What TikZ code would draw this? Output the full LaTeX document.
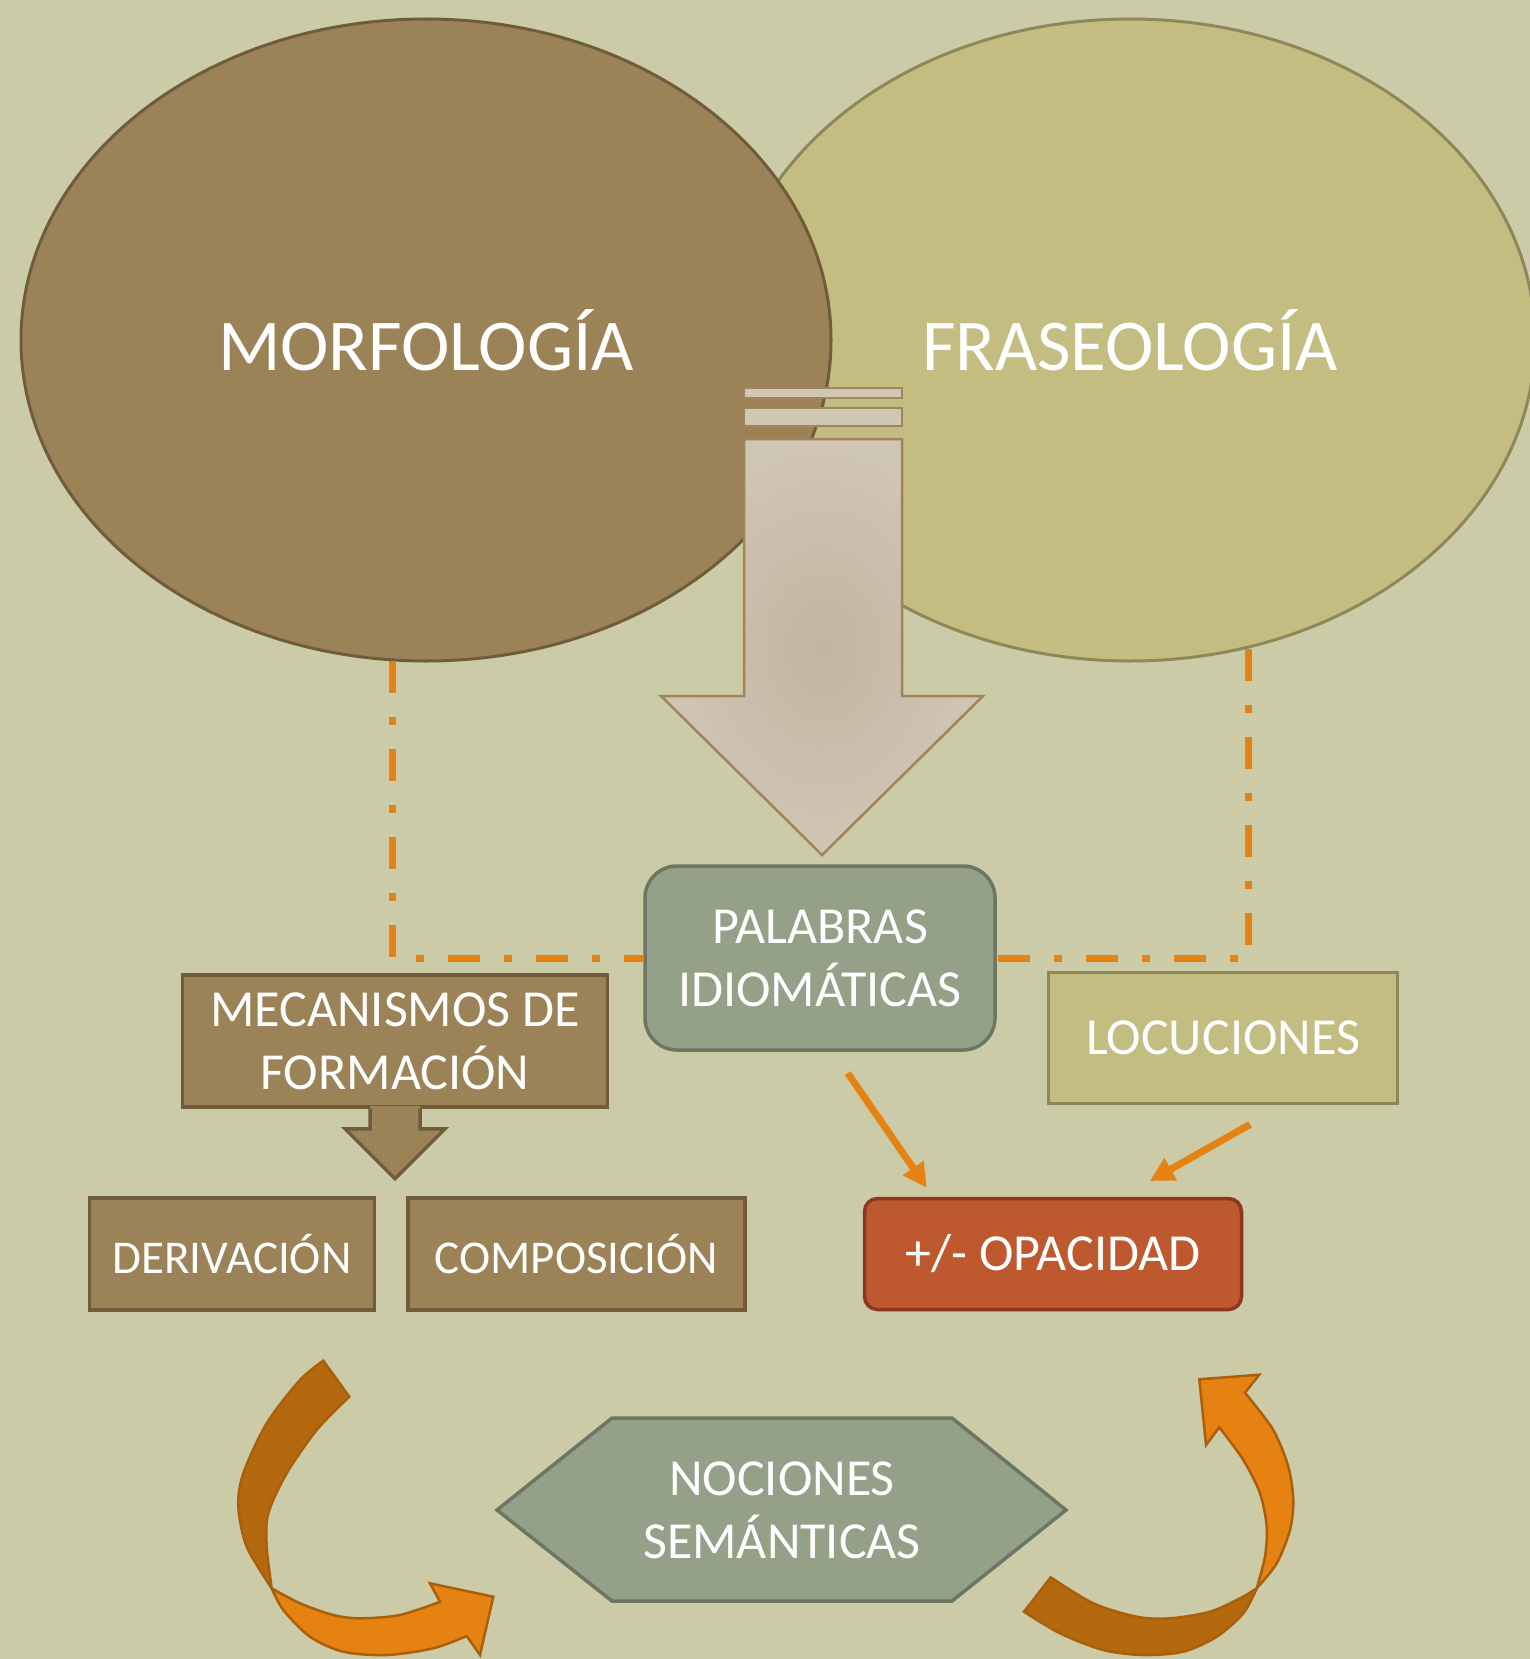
\documentclass[tikz,border=0pt]{standalone}
\usepackage{fontspec}
\setmainfont{Carlito}
\usetikzlibrary{shapes,shapes.geometric,arrows,arrows.meta,calc,positioning}
\definecolor{fondo}{RGB}{203,203,167}
\definecolor{morfc}{RGB}{155,131,87}
\definecolor{morfl}{RGB}{110,92,60}
\definecolor{frasc}{RGB}{195,189,130}
\definecolor{frasl}{RGB}{140,136,90}
\definecolor{verde}{RGB}{148,160,135}
\definecolor{verdel}{RGB}{108,118,98}
\definecolor{rojo}{RGB}{190,88,46}
\definecolor{rojol}{RGB}{140,55,30}
\definecolor{naranja}{RGB}{229,130,18}
\definecolor{naranjao}{RGB}{181,105,14}
\definecolor{naranjal}{RGB}{170,95,10}
\definecolor{flecha}{RGB}{208,198,180}
\definecolor{flechac}{RGB}{194,181,162}
\definecolor{flechal}{RGB}{160,132,90}
\tikzset{circulo/.style={draw,ellipse,line width=3pt,minimum width=810pt,minimum height=642pt,text=white,font=\fontsize{73}{88}\selectfont}}
\tikzset{caja/.style={draw,rectangle,line width=3.5pt,text=white,align=center,inner sep=0pt,font=\fontsize{52}{63}\selectfont}}
\tikzstyle{marron}=[caja, fill=morfc, draw=morfl]
\tikzstyle{verdoso}=[caja, fill=verde, draw=verdel]
\tikzstyle{linea}=[draw=naranja, line width=7pt, dash pattern=on 32pt off 24pt on 8pt off 24pt]
\tikzstyle{flechita}=[draw=naranja, line width=7pt, -{Triangle[length=24pt,width=24pt]}]
\tikzstyle{cinta}=[line width=2.5pt, draw=naranjal]

\begin{document}
\begin{tikzpicture}[x=1pt, y=-1pt, node distance=30pt]
\useasboundingbox (0,0) rectangle (1530,1659);
\fill[fondo] (0,0) rectangle (1530,1659);

\node[circulo, fill=frasc, draw=frasl] (frase) at (1130,340) {FRASEOLOGÍA};
\node[circulo, fill=morfc, draw=morfl] (morf) at (426,340) {MORFOLOGÍA};

% flecha grande
\fill[flecha, draw=flechal, line width=2.5pt] (744,388) rectangle (902,398);
\fill[flecha, draw=flechal, line width=2.5pt] (744,408) rectangle (902,426);
\shade[inner color=flechac, outer color=flecha, draw=flechal, line width=2.5pt]
  (744,439) -- (902,439) -- (902,696) -- (983,696) -- (822,855) -- (661,696) -- (744,696) -- cycle;

\node[verdoso, rounded corners=32pt, minimum width=350pt, minimum height=184pt] (palabras) at (820,958) {PALABRAS\\IDIOMÁTICAS};
\node[marron, minimum width=425pt, minimum height=132pt] (mec) at (395,1041) {MECANISMOS DE\\FORMACIÓN};
\node[marron, minimum width=285pt, minimum height=112pt, font=\fontsize{47}{56}\selectfont] (deriv) at (232,1254) {DERIVACIÓN};
\node[marron, minimum width=337pt, minimum height=112pt, font=\fontsize{47}{56}\selectfont, right=30pt of deriv] (compos) {COMPOSICIÓN};
\node[caja, fill=frasc, draw=frasl, minimum width=349pt, minimum height=131pt] (locu) at (1223,1038) {LOCUCIONES};
\node[caja, fill=rojo, draw=rojol, rounded corners=13pt, minimum width=377pt, minimum height=111pt] (opac) at (1053,1254) {+/- OPACIDAD};

\draw[linea] (morf.264) |- (palabras.west);
\draw[linea] (frase.291) |- (palabras.east);

% flecha de mecanismos
\fill[morfc, shift={(mec.south)}] (-25,-3) -- (-25,20) -- (-50,20) -- (0,70) -- (50,20) -- (25,20) -- (25,-3) -- cycle;
\draw[morfl, line width=3.5pt, shift={(mec.south)}] (-25,0) -- (-25,20) -- (-50,20) -- (0,70) -- (50,20) -- (25,20) -- (25,0);

\draw[flechita, shorten <=26pt, shorten >=11pt] ([xshift=13pt]palabras.south) -- ([xshift=-120pt]opac.north);
\draw[flechita, shorten <=39pt, shorten >=32pt] ([xshift=61pt]locu.south) -- ([xshift=69pt]opac.north);

\draw[fill=verde, draw=verdel, line width=3.5pt] (497,1510) -- (612,1418) -- (952,1418) -- (1066,1510) -- (952,1601) -- (612,1601) -- cycle;
\node[text=white, align=center, font=\fontsize{52}{63}\selectfont] (nociones) at (782,1510) {NOCIONES\\SEMÁNTICAS};

% flechas curvas
\filldraw[cinta, fill=naranjao] (323.3,1360.7) -- (349.3,1396.7)
  -- plot[smooth] coordinates {(349.3,1396.7) (316.7,1430) (286.7,1473.3) (268.3,1513.3) (266.7,1546.7) (271.7,1588.3)}
  -- plot[smooth] coordinates {(271.7,1588.3) (246.7,1546.7) (238.3,1506.7) (243.3,1473.3) (266.7,1423.3) (300,1380) (323.3,1360.7)} -- cycle;
\filldraw[cinta, fill=naranja] (271.7,1588.3)
  -- plot[smooth] coordinates {(271.7,1588.3) (300,1603.3) (333.3,1615) (360,1618.3) (400,1615) (440,1601.7)}
  -- (430,1583.3) -- (493.3,1596.7) -- (480,1655) -- (466.7,1636)
  -- plot[smooth] coordinates {(466.7,1636) (433.3,1648.3) (386.7,1655) (343.3,1651.7) (310,1636.7) (283.3,1610) (271.7,1588.3)} -- cycle;
\filldraw[cinta, fill=naranjao] (1024,1611.7) -- (1050.7,1577.3)
  -- plot[smooth] coordinates {(1050.7,1577.3) (1093.3,1603.3) (1136.7,1616.7) (1170,1618.3) (1210,1611.7) (1240,1598.3) (1256.7,1588.3)}
  -- plot[smooth] coordinates {(1256.7,1588.3) (1243.3,1613.3) (1216.7,1636.7) (1183.3,1651.7) (1143.3,1655) (1103.3,1650) (1060,1633.3) (1024,1611.7)} -- cycle;
\filldraw[cinta, fill=naranja] (1256.7,1588.3)
  -- plot[smooth] coordinates {(1256.7,1588.3) (1276.7,1563.3) (1290,1530) (1293.3,1500) (1288.3,1466.7) (1273.3,1430) (1245,1392.7)}
  -- (1259.3,1374.7) -- (1199.3,1379.3) -- (1206,1445) -- (1219.3,1427.3)
  -- plot[smooth] coordinates {(1219.3,1427.3) (1243.3,1460) (1260,1493.3) (1266.7,1526.7) (1265,1556.7) (1256.7,1588.3)} -- cycle;
\end{tikzpicture}
\end{document}
